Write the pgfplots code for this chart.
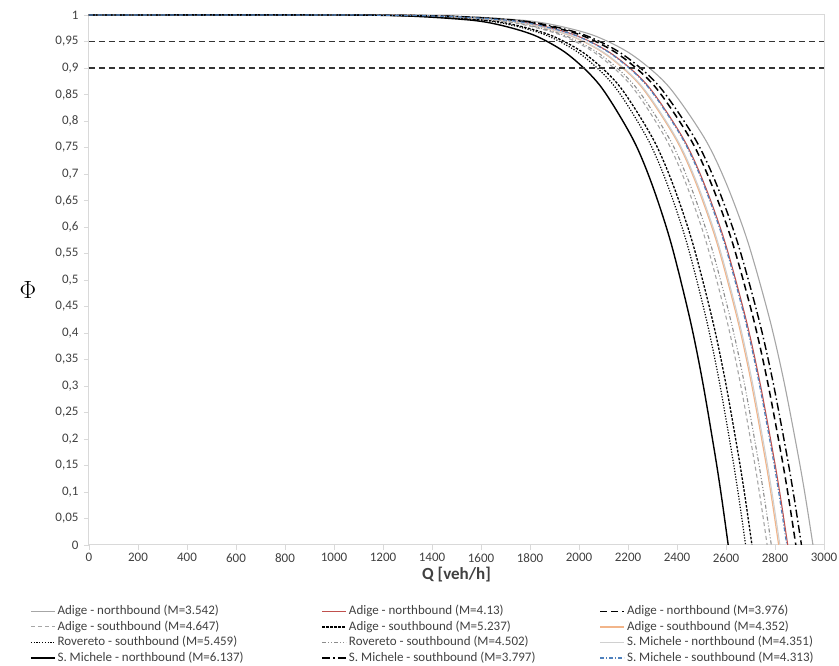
\documentclass[border=0pt]{standalone}
\usepackage{pgfplots}
\pgfplotsset{compat=1.18}
\usepackage{fontspec}
\setmainfont{Carlito}
\definecolor{axgray}{HTML}{D9D9D9}
\definecolor{txtgray}{HTML}{404040}
\definecolor{c1gray}{HTML}{A6A6A6}
\definecolor{cred}{HTML}{C0504D}
\definecolor{corange}{HTML}{F2B58A}
\definecolor{cmidgray}{HTML}{8C8C8C}
\definecolor{clight}{HTML}{D0D0D0}
\definecolor{cblue}{HTML}{4F81BD}
\begin{document}
\begin{tikzpicture}
\path[use as bounding box] (-89pt,-121pt) rectangle (750pt,545pt);
\begin{axis}[
  scale only axis, width=735pt, height=530pt,
  xmin=0, xmax=3000, ymin=0, ymax=1,
  xtick={0,200,400,600,800,1000,1200,1400,1600,1800,2000,2200,2400,2600,2800,3000},
  ytick={0,0.05,0.1,0.15,0.2,0.25,0.3,0.35,0.4,0.45,0.5,0.55,0.6,0.65,0.7,0.75,0.8,0.85,0.9,0.95,1},
  xtick pos=left, ytick pos=left,
  tick align=outside, major tick length=5pt,
  tick style={draw=axgray, line width=0.9pt},
  axis line style={draw=axgray, line width=1pt},
  /pgf/number format/assume math mode=true,
  xticklabel style={/pgf/number format/.cd, fixed, 1000 sep={}},
  yticklabel style={xshift=-2pt, /pgf/number format/.cd, use comma, fixed, precision=2, 1000 sep={}},
  tick label style={font=\fontsize{13}{15}\selectfont, color=txtgray},
  xlabel={Q [veh/h]},
  xlabel style={font=\fontsize{17}{19}\selectfont\bfseries, color=txtgray, yshift=2pt},
  ylabel={$\Phi$},
  ylabel style={rotate=-90, at={(rel axis cs:-0.083,0.481)}, anchor=center, font=\fontsize{25}{28}\selectfont},
  legend columns=3,
  legend cell align=left,
  legend image code/.code={\draw[#1] (0pt,0pt) -- (24pt,0pt);},
  legend style={at={(rel axis cs:-0.0844,-0.108)}, anchor=north west, draw=none, fill=none,
    font=\fontsize{13}{15}\selectfont, text=txtgray,
    nodes={inner xsep=2pt, inner ysep=1pt, text height=9.5pt, text depth=2.5pt},
    row sep=1.5pt,
    /tikz/column 2/.style={column sep=76pt},
    /tikz/column 4/.style={column sep=62pt}},
]
% 1 Adige northbound M=3.542
\addplot[c1gray, line width=1.1pt, smooth] coordinates {(0,1) (1000,1) (1477.5,0.998) (1773,0.990) (1920.8,0.979) (2068.5,0.960) (2216.3,0.925) (2364,0.866) (2511.8,0.768) (2600.4,0.683) (2689.1,0.572) (2777.7,0.427) (2836.8,0.308) (2895.9,0.166) (2925.5,0.087) (2955,0)};
\addlegendentry{Adige - northbound (M=3.542)}
% 2 Adige northbound M=4.13
\addplot[cred, line width=1.1pt, smooth] coordinates {(0,1) (1000,1) (1426,0.998) (1711.2,0.990) (1853.8,0.979) (1996.4,0.960) (2139,0.925) (2281.6,0.866) (2424.2,0.768) (2509.8,0.683) (2595.3,0.572) (2680.9,0.427) (2737.9,0.308) (2795,0.166) (2823.5,0.087) (2852,0)};
\addlegendentry{Adige - northbound (M=4.13)}
% 3 Adige northbound M=3.976
\addplot[black, line width=1.5pt, dash pattern=on 7pt off 4pt, smooth] coordinates {(0,1) (1000,1) (1442.5,0.998) (1731,0.990) (1875.3,0.979) (2019.5,0.960) (2163.8,0.925) (2308,0.866) (2452.3,0.768) (2538.8,0.683) (2625.4,0.572) (2711.9,0.427) (2769.6,0.308) (2827.3,0.166) (2856.2,0.087) (2885,0)};
\addlegendentry{Adige - northbound (M=3.976)}
% 4 Adige southbound M=4.647
\addplot[c1gray, line width=1.1pt, dash pattern=on 4pt off 3pt, smooth] coordinates {(0,1) (1000,1) (1384,0.998) (1660.8,0.990) (1799.2,0.979) (1937.6,0.960) (2076,0.925) (2214.4,0.866) (2352.8,0.768) (2435.8,0.683) (2518.9,0.572) (2601.9,0.427) (2657.3,0.308) (2712.6,0.166) (2740.3,0.087) (2768,0)};
\addlegendentry{Adige - southbound (M=4.647)}
% 5 Adige southbound M=5.237
\addplot[black, line width=1.3pt, dash pattern=on 2.5pt off 1.5pt, smooth] coordinates {(0,1) (1000,1) (1353,0.998) (1623.6,0.990) (1758.9,0.979) (1894.2,0.960) (2029.5,0.925) (2164.8,0.866) (2300.1,0.768) (2381.3,0.683) (2462.5,0.572) (2543.6,0.427) (2597.8,0.308) (2651.9,0.166) (2678.9,0.087) (2706,0)};
\addlegendentry{Adige - southbound (M=5.237)}
% 6 Adige southbound M=4.352
\addplot[corange, line width=1.2pt, smooth] coordinates {(0,1) (1000,1) (1407.5,0.998) (1689,0.990) (1829.8,0.979) (1970.5,0.960) (2111.3,0.925) (2252,0.866) (2392.8,0.768) (2477.2,0.683) (2561.7,0.572) (2646.1,0.427) (2702.4,0.308) (2758.7,0.166) (2786.9,0.087) (2815,0)};
\addlegendentry{Adige - southbound (M=4.352)}
% 7 Rovereto southbound M=5.459
\addplot[black, line width=1.2pt, dash pattern=on 1.2pt off 1.6pt, smooth] coordinates {(0,1) (1000,1) (1340,0.998) (1608,0.990) (1742,0.979) (1876,0.960) (2010,0.925) (2144,0.866) (2278,0.768) (2358.4,0.683) (2438.8,0.572) (2519.2,0.427) (2572.8,0.308) (2626.4,0.166) (2653.2,0.087) (2680,0)};
\addlegendentry{Rovereto - southbound (M=5.459)}
% 8 Rovereto southbound M=4.502
\addplot[cmidgray, line width=1.1pt, dash pattern=on 4pt off 2pt on 1pt off 2pt on 1pt off 2pt, smooth] coordinates {(0,1) (1000,1) (1392.5,0.998) (1671,0.990) (1810.3,0.979) (1949.5,0.960) (2088.8,0.925) (2228,0.866) (2367.3,0.768) (2450.8,0.683) (2534.4,0.572) (2617.9,0.427) (2673.6,0.308) (2729.3,0.166) (2757.2,0.087) (2785,0)};
\addlegendentry{Rovereto - southbound (M=4.502)}
% 9 S. Michele northbound M=4.351
\addplot[clight, line width=1.1pt, smooth] coordinates {(0,1) (1000,1) (1410,0.998) (1692,0.990) (1833,0.979) (1974,0.960) (2115,0.925) (2256,0.866) (2397,0.768) (2481.6,0.683) (2566.2,0.572) (2650.8,0.427) (2707.2,0.308) (2763.6,0.166) (2791.8,0.087) (2820,0)};
\addlegendentry{S. Michele - northbound (M=4.351)}
% 10 S. Michele northbound M=6.137
\addplot[black, line width=1.4pt, smooth] coordinates {(0,1) (1000,1) (1304.5,0.998) (1565.4,0.990) (1695.9,0.979) (1826.3,0.960) (1956.8,0.925) (2087.2,0.866) (2217.7,0.768) (2295.9,0.683) (2374.2,0.572) (2452.5,0.427) (2504.6,0.308) (2556.8,0.166) (2582.9,0.087) (2609,0)};
\addlegendentry{S. Michele - northbound (M=6.137)}
% 11 S. Michele southbound M=3.797
\addplot[black, line width=1.4pt, dash pattern=on 8pt off 3pt on 1.5pt off 3pt, smooth] coordinates {(0,1) (1000,1) (1454,0.998) (1744.8,0.990) (1890.2,0.979) (2035.6,0.960) (2181,0.925) (2326.4,0.866) (2471.8,0.768) (2559,0.683) (2646.3,0.572) (2733.5,0.427) (2791.7,0.308) (2849.8,0.166) (2878.9,0.087) (2908,0)};
\addlegendentry{S. Michele - southbound (M=3.797)}
% 12 S. Michele southbound M=4.313
\addplot[cblue, line width=1.2pt, dash pattern=on 4pt off 2pt on 1pt off 2pt, smooth] coordinates {(0,1) (1000,1) (1424,0.998) (1708.8,0.990) (1851.2,0.979) (1993.6,0.960) (2136,0.925) (2278.4,0.866) (2420.8,0.768) (2506.2,0.683) (2591.7,0.572) (2677.1,0.427) (2734.1,0.308) (2791,0.166) (2819.5,0.087) (2848,0)};
\addlegendentry{S. Michele - southbound (M=4.313)}
% reference lines
\addplot[black!80, line width=1.2pt, dash pattern=on 6pt off 4pt, forget plot] coordinates {(0,0.95) (3000,0.95)};
\addplot[black!80, line width=1.2pt, dash pattern=on 6pt off 4pt, forget plot] coordinates {(0,0.9) (3000,0.9)};
\end{axis}
\end{tikzpicture}
\end{document}
